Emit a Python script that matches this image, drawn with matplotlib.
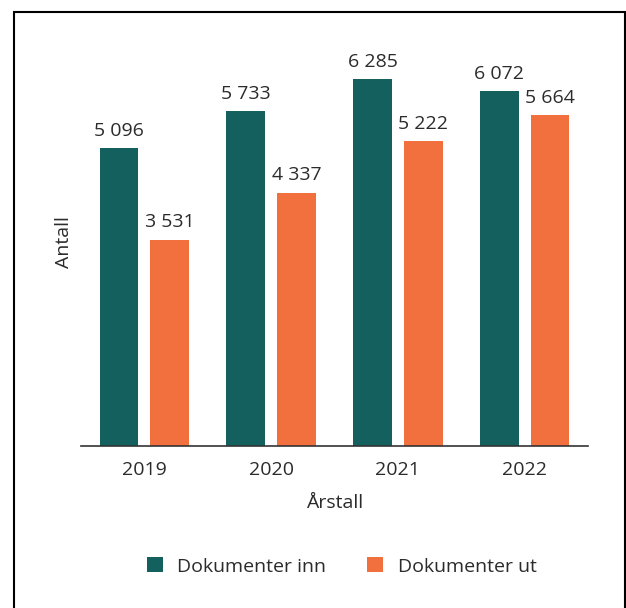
import matplotlib
matplotlib.use("Agg")
import matplotlib.pyplot as plt
from matplotlib.patches import Rectangle
import numpy as np

years = ["2019", "2020", "2021", "2022"]
docs_in = [5096, 5733, 6285, 6072]
docs_out = [3531, 4337, 5222, 5664]
series_names = ["Dokumenter inn", "Dokumenter ut"]

TEAL = "#13605F"
ORANGE = "#F2703E"
TEXT = "#2b2b2b"
FS = 14

plt.rcParams["font.family"] = ["Open Sans", "DejaVu Sans"]

fig = plt.figure(figsize=(6.26, 6.08), dpi=100)
W, H = 626, 608

# outer frame (open at the bottom edge of the image)
fig.add_artist(Rectangle((14 / W, -0.05), (625 - 14) / W, (H - 12) / H + 0.05,
                         transform=fig.transFigure, fill=False,
                         edgecolor="black", linewidth=1.5))

ymax = 7000
px_per_unit = 367 / 6285
ax_left, ax_right, ax_base = 81, 588, 446
ax_top = ax_base - ymax * px_per_unit
ax = fig.add_axes([ax_left / W, (H - ax_base) / H,
                   (ax_right - ax_left) / W, (ax_base - ax_top) / H])

x = np.arange(len(years))
bw = 0.307
off = 0.2
b1 = ax.bar(x - off, docs_in, bw, color=TEAL, label=series_names[0])
b2 = ax.bar(x + off, docs_out, bw, color=ORANGE, label=series_names[1])


def fmt(v):
    return f"{v:,}".replace(",", " ")


for bars, vals in ((b1, docs_in), (b2, docs_out)):
    for rect, v in zip(bars, vals):
        ax.annotate(fmt(v), (rect.get_x() + rect.get_width() / 2, v),
                    xytext=(0, 6), textcoords="offset points",
                    ha="center", va="bottom", fontsize=FS, color=TEXT)

ax.set_xlim(-0.5, 3.5)
ax.set_ylim(0, ymax)
ax.set_xticks(x)
ax.set_xticklabels(years, fontsize=FS, color=TEXT)
ax.tick_params(axis="x", length=0, pad=10.5)
ax.set_yticks([])
for s in ("top", "right", "left"):
    ax.spines[s].set_visible(False)
ax.spines["bottom"].set_color("#333333")
ax.spines["bottom"].set_linewidth(1.2)

ax.set_xlabel("Årstall", fontsize=FS, color=TEXT, labelpad=11)
ax.set_ylabel("Antall", fontsize=FS, color=TEXT, labelpad=6)

fig.legend(handles=[b1, b2], labels=series_names, loc="center",
           bbox_to_anchor=(341.5 / W, (H - 566.5) / H), ncol=2, frameon=False,
           fontsize=FS, handlelength=0.82, handleheight=0.82,
           columnspacing=2.1, handletextpad=0.75, labelcolor=TEXT)

fig.savefig("out.png", dpi=100)
